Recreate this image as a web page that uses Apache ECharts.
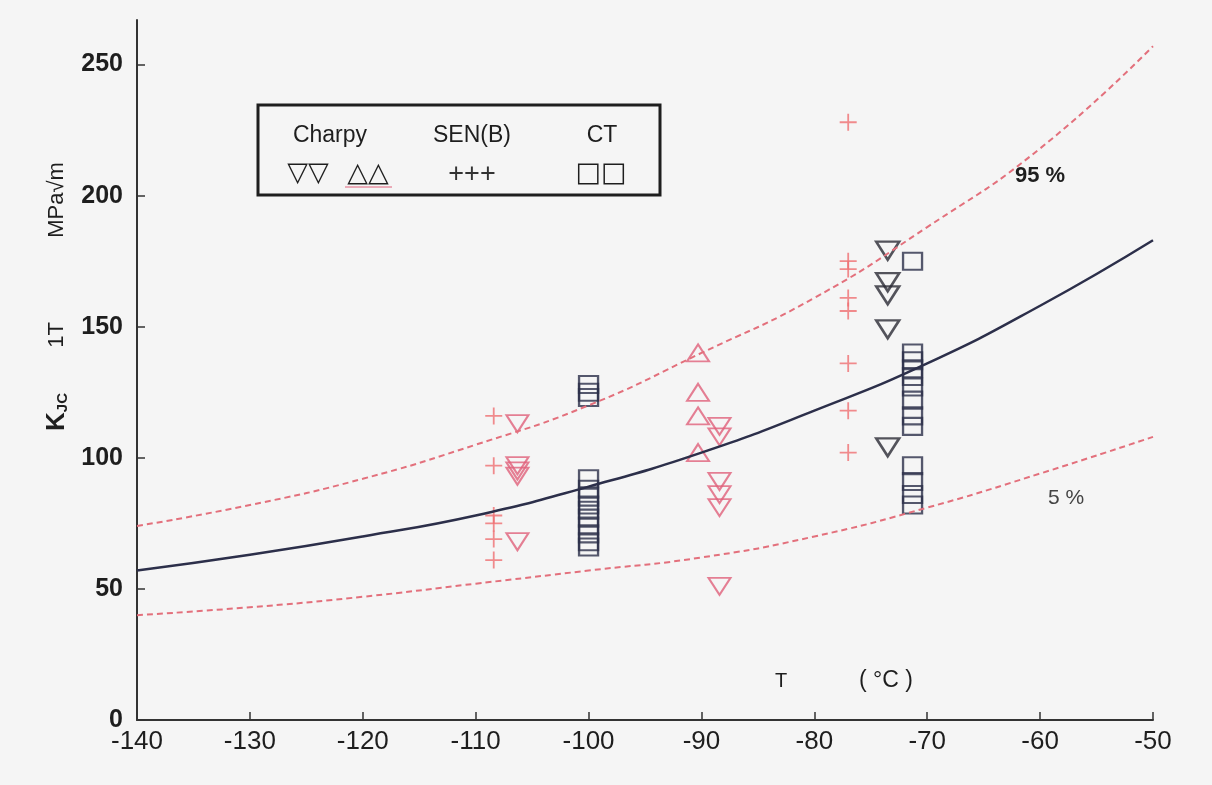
<!DOCTYPE html>
<html>
<head>
<meta charset="utf-8">
<title>KJC 1T vs T</title>
<script src="https://cdn.jsdelivr.net/npm/echarts@6/dist/echarts.min.js"></script>
<style>
    html, body { margin: 0; padding: 0; background: #f5f5f5; }
    #chart { width: 1212px; height: 785px; }
</style>
</head>
<body>
<div id="chart"></div>
<script>
    // master curve (T in degC, K in MPa*sqrt(m))
    var curveT = [-140, -130, -120, -110, -100, -90, -80, -70, -60, -50];
    var median = [57, 63, 70, 78, 89, 102, 118, 136, 158, 183];
    var upper95 = [74, 82, 92, 105, 120, 140, 161, 188, 218, 257];
    var lower5 = [40, 43, 47, 52, 57, 62, 70, 81, 94, 108];

    // SEN(B) specimens
    var senbT = [-108.4, -108.4, -108.4, -108.4, -108.4, -108.4,
                 -77, -77, -77, -77, -77, -77, -77, -77];
    var senbK = [116, 97, 78, 75, 69, 61,
                 228, 175, 172, 161, 156, 136, 118, 102];

    // Charpy (red, pointing down)
    var charpyDownT = [-106.3, -106.3, -106.3, -106.3, -106.3,
                       -88.4, -88.4, -88.4, -88.4, -88.4, -88.4];
    var charpyDownK = [113, 97, 95, 93, 68,
                       112, 108, 91, 86, 81, 51];
    // Charpy (red, pointing up)
    var charpyUpT = [-90.3, -90.3, -90.3, -90.3];
    var charpyUpK = [140, 125, 116, 102];
    // Charpy (black, pointing down)
    var charpyBlackT = [-73.5, -73.5, -73.5, -73.5, -73.5];
    var charpyBlackK = [179, 167, 162, 149, 104];

    // CT specimens
    var ctT = [-100, -100, -100,
               -100, -100, -100, -100, -100, -100, -100, -100, -100, -100,
               -71.3, -71.3, -71.3, -71.3, -71.3, -71.3, -71.3, -71.3, -71.3,
               -71.3, -71.3, -71.3, -71.3];
    var ctK = [128, 125, 123,
               92, 88, 85, 82, 80, 77, 74, 71, 68, 66,
               175, 140, 137, 134, 131, 127, 122, 116, 112,
               97, 91, 86, 82];

    var yTicks = [0, 50, 100, 150, 200, 250];

    function pairs(xs, ys) {
        var out = [];
        for (var i = 0; i < xs.length; i++) {
            out.push([xs[i], ys[i]]);
        }
        return out;
    }

    var red = '#e0607a';
    var dashRed = '#e3707c';
    var plusRed = '#ef6f72';
    var dark = '#2c2f4a';
    var font = 'Liberation Sans';
    var narrow = 'Liberation Sans Narrow, Liberation Sans';

    var chart = echarts.init(document.getElementById('chart'));
    chart.setOption({
        backgroundColor: '#f5f5f5',
        animation: false,
        grid: {
            left: 137,
            right: 59,
            top: 20,
            bottom: 65
        },
        xAxis: {
            type: 'value',
            min: -140,
            max: -50,
            interval: 10,
            splitLine: {show: false},
            axisLine: {lineStyle: {color: '#333', width: 2}},
            axisTick: {inside: true, length: 8, lineStyle: {color: '#333', width: 1.5}},
            axisLabel: {
                color: '#1e1e1e',
                fontSize: 26,
                fontFamily: narrow,
                margin: 9
            }
        },
        yAxis: {
            type: 'value',
            min: 0,
            max: 267,
            splitLine: {show: false},
            axisLine: {show: true, lineStyle: {color: '#333', width: 2}},
            axisTick: {inside: true, length: 8, customValues: yTicks, lineStyle: {color: '#333', width: 1.5}},
            axisLabel: {
                customValues: yTicks,
                color: '#1e1e1e',
                fontSize: 25,
                fontWeight: 'bold',
                fontFamily: font,
                margin: 14
            }
        },
        series: [
            {
                name: '95 %',
                type: 'line',
                smooth: true,
                symbol: 'none',
                lineStyle: {color: dashRed, width: 2, type: [6, 4]},
                data: pairs(curveT, upper95)
            },
            {
                name: '5 %',
                type: 'line',
                smooth: true,
                symbol: 'none',
                lineStyle: {color: dashRed, width: 2, type: [6, 4]},
                data: pairs(curveT, lower5)
            },
            {
                name: 'median',
                type: 'line',
                smooth: true,
                symbol: 'none',
                lineStyle: {color: dark, width: 2.5},
                data: pairs(curveT, median)
            },
            {
                name: 'SEN(B)',
                type: 'scatter',
                symbol: 'path://M5,0 L5,10 M0,5 L10,5',
                symbolSize: 17,
                itemStyle: {color: 'none', borderColor: plusRed, borderWidth: 1.8},
                data: pairs(senbT, senbK)
            },
            {
                name: 'Charpy down',
                type: 'scatter',
                symbol: 'path://M0,0 L10,0 L5,8 Z',
                symbolSize: [22, 17],
                itemStyle: {color: 'none', borderColor: red, borderWidth: 2},
                data: pairs(charpyDownT, charpyDownK)
            },
            {
                name: 'Charpy up',
                type: 'scatter',
                symbol: 'path://M5,0 L10,8 L0,8 Z',
                symbolSize: [22, 17],
                itemStyle: {color: 'none', borderColor: red, borderWidth: 2},
                data: pairs(charpyUpT, charpyUpK)
            },
            {
                name: 'Charpy black',
                type: 'scatter',
                symbol: 'path://M0,0 L10,0 L5,8 Z',
                symbolSize: [23, 18],
                itemStyle: {color: 'none', borderColor: '#2a2a35', borderWidth: 2.5},
                data: pairs(charpyBlackT, charpyBlackK)
            },
            {
                name: 'CT',
                type: 'scatter',
                symbol: 'rect',
                symbolSize: [19, 17],
                itemStyle: {color: 'none', borderColor: dark, borderWidth: 2.2},
                data: pairs(ctT, ctK)
            }
        ],
        graphic: [
            // legend box
            {
                type: 'rect',
                shape: {x: 258, y: 105, width: 402, height: 90},
                style: {fill: 'none', stroke: '#1e1e1e', lineWidth: 3}
            },
            {type: 'text', x: 330, y: 136, style: {text: 'Charpy', fontSize: 23, fontFamily: font, fill: '#1e1e1e', align: 'center', verticalAlign: 'middle'}},
            {type: 'text', x: 472, y: 136, style: {text: 'SEN(B)', fontSize: 23, fontFamily: font, fill: '#1e1e1e', align: 'center', verticalAlign: 'middle'}},
            {type: 'text', x: 602, y: 136, style: {text: 'CT', fontSize: 23, fontFamily: font, fill: '#1e1e1e', align: 'center', verticalAlign: 'middle'}},
            {type: 'text', x: 308, y: 174, style: {text: '▽▽', fontSize: 27, fontWeight: 'bold', fontFamily: 'DejaVu Sans', fill: '#1e1e1e', align: 'center', verticalAlign: 'middle'}},
            {type: 'text', x: 368, y: 174, style: {text: '△△', fontSize: 27, fontWeight: 'bold', fontFamily: 'DejaVu Sans', fill: '#1e1e1e', align: 'center', verticalAlign: 'middle'}},
            {
                type: 'line',
                shape: {x1: 345, y1: 187, x2: 392, y2: 187},
                style: {stroke: red, lineWidth: 1}
            },
            {type: 'text', x: 472, y: 175, style: {text: '+++', fontSize: 27, fontFamily: font, fill: '#333', align: 'center', verticalAlign: 'middle'}},
            {type: 'text', x: 601, y: 174, style: {text: '□□', fontSize: 27, fontWeight: 'bold', fontFamily: 'DejaVu Sans', fill: '#1e1e1e', align: 'center', verticalAlign: 'middle'}},

            // curve labels
            {type: 'text', x: 1040, y: 176, style: {text: '95 %', fontSize: 22, fontWeight: 'bold', fontFamily: font, fill: '#1e1e1e', align: 'center', verticalAlign: 'middle'}},
            {type: 'text', x: 1066, y: 498, style: {text: '5 %', fontSize: 21, fontFamily: font, fill: '#444', align: 'center', verticalAlign: 'middle'}},

            // axis titles
            {type: 'text', x: 781, y: 681, style: {text: 'T', fontSize: 20, fontFamily: font, fill: '#1e1e1e', align: 'center', verticalAlign: 'middle'}},
            {type: 'text', x: 886, y: 681, style: {text: '( °C )', fontSize: 23, fontFamily: font, fill: '#1e1e1e', align: 'center', verticalAlign: 'middle'}},
            {
                type: 'text', x: 57, y: 412, rotation: Math.PI / 2,
                style: {
                    text: '{k|K}{s|JC}',
                    align: 'center', verticalAlign: 'middle',
                    rich: {
                        k: {fontSize: 26, fontWeight: 'bold', fontFamily: font, fill: '#1e1e1e'},
                        s: {fontSize: 15, fontWeight: 'bold', fontFamily: font, fill: '#1e1e1e', padding: [11, 0, 0, 0]}
                    }
                }
            },
            {type: 'text', x: 57, y: 335, rotation: Math.PI / 2, style: {text: '1T', fontSize: 22, fontFamily: font, fill: '#1e1e1e', align: 'center', verticalAlign: 'middle'}},
            {type: 'text', x: 57, y: 200, rotation: Math.PI / 2, style: {text: 'MPa√m', fontSize: 22, fontFamily: font, fill: '#1e1e1e', align: 'center', verticalAlign: 'middle'}}
        ]
    });
</script>
</body>
</html>
